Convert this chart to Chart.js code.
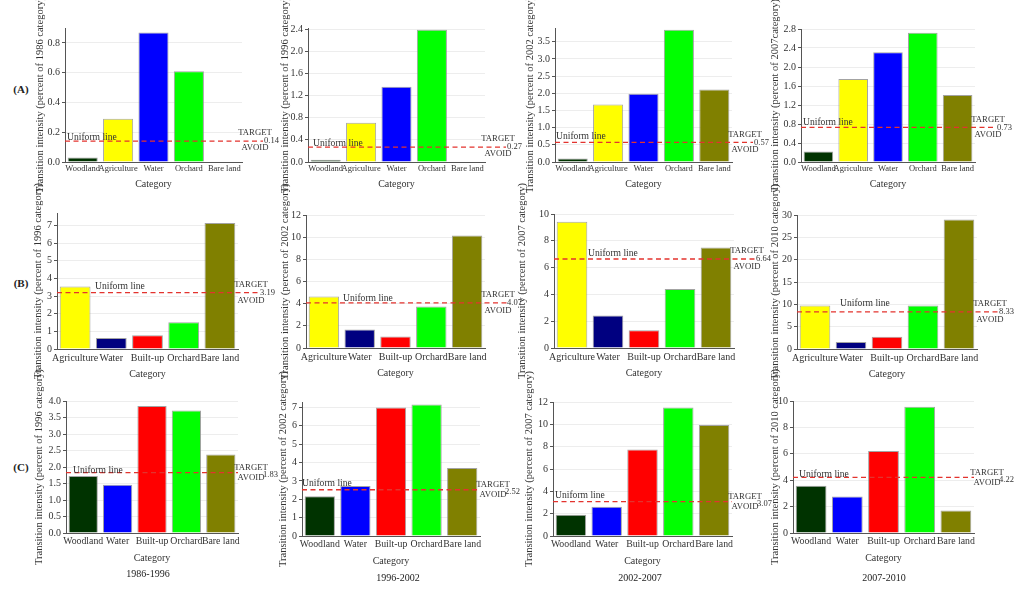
<!DOCTYPE html>
<html>
<head>
<meta charset="utf-8">
<title>Transition intensity by category</title>
<script src="https://cdn.jsdelivr.net/npm/chart.js@4.4.1/dist/chart.umd.min.js"></script>
<style>
    html, body { margin: 0; padding: 0; background: #fff; }
    #wrap {
        position: relative;
        width: 1024px;
        height: 596px;
        overflow: hidden;
        font-family: "Liberation Serif", "Times New Roman", serif;
        color: #222;
    }
    #wrap canvas { position: absolute; top: 0; }
    .lbl {
        position: absolute;
        white-space: nowrap;
        transform: translate(-50%, -50%);
        font-size: 10px;
        line-height: 1;
    }
    .row-lbl { font-weight: bold; font-size: 11px; }
</style>
</head>
<body>
<div id="wrap"></div>
<script>
// categories per row
const catsA = ['Woodland', 'Agriculture', 'Water', 'Orchard', 'Bare land'];
const catsB = ['Agriculture', 'Water', 'Built-up', 'Orchard', 'Bare land'];
const catsC = ['Woodland', 'Water', 'Built-up', 'Orchard', 'Bare land'];

const periods = ['1986-1996', '1996-2002', '2002-2007', '2007-2010'];
const yearsA = ['1986', '1996', '2002', '2007'];
const yearsBC = ['1996', '2002', '2007', '2010'];

// transition intensity values (one list per period)
const valuesA = [
    [0.03, 0.29, 0.87, 0.61, 0],
    [0.04, 0.71, 1.36, 2.39, 0],
    [0.10, 1.67, 1.99, 3.85, 2.11],
    [0.22, 1.75, 2.31, 2.72, 1.41]
];
const valuesB = [
    [3.54, 0.62, 0.78, 1.51, 7.13],
    [4.64, 1.66, 1.03, 3.74, 10.16],
    [9.43, 2.43, 1.33, 4.40, 7.50],
    [9.72, 1.57, 2.77, 9.72, 29.0]
];
const valuesC = [
    [1.73, 1.46, 3.85, 3.71, 2.38],
    [2.16, 2.72, 7.00, 7.16, 3.70],
    [1.90, 2.62, 7.74, 11.50, 9.95],
    [3.58, 2.77, 6.22, 9.57, 1.71]
];

// uniform intensity lines
const uniformA = [0.14, 0.27, 0.57, 0.73];
const uniformB = [3.19, 4.07, 6.64, 8.33];
const uniformC = [1.83, 2.52, 3.07, 4.22];

// y axis ranges / tick steps
const maxA = [0.9, 2.42, 3.9, 2.8];
const stepA = [0.2, 0.4, 0.5, 0.4];
const decA = [1, 1, 1, 1];
const maxB = [7.7, 12, 10, 30];
const stepB = [1, 2, 2, 5];
const decB = [0, 0, 0, 0];
const maxC = [4.0, 7.3, 12, 10];
const stepC = [0.5, 1, 2, 2];
const decC = [1, 0, 0, 0];

const colours = {
    'Woodland': '#003300',
    'Agriculture': '#ffff00',
    'Water': '#0000ff',
    'Built-up': '#ff0000',
    'Orchard': '#00ff00',
    'Bare land': '#808000'
};

// page geometry: [title x, plot left, plot right, plot top, plot bottom]
const boxes = [
    [[40, 65, 242, 28, 162], [285, 308, 485, 28, 162], [530, 555, 732, 28, 162], [775, 801, 975, 29, 162]],
    [[38, 57, 238, 213, 349], [285, 306, 485, 215, 348], [522, 554, 734, 214, 348], [775, 797, 977, 215, 349]],
    [[39, 66, 238, 401, 533], [283, 302, 480, 402, 536], [529, 553, 732, 402, 536], [775, 793, 974, 401, 533]]
];
// "Uniform line" text offset from the axis and from the line
const uText = [
    [[2, -4], [5, -3.5], [1, -5.5], [2, -4.5]],
    [[38, -6], [37, -4], [34, -6], [43, -8]],
    [[7, -2], [0, -6], [2, -6], [6, -3]]
];
const rowStyle = [
    { hx: 28, pad: 2, xFont: 8.5, ext: 21, tDy: -8, aDy: 7, vDy: 0, vDx: 22 },
    { hx: 31.5, pad: 3, xFont: 10, ext: 22, tDy: -8, aDy: 8, vDy: 0, vDx: 22 },
    { hx: 31, pad: 3, xFont: 9.8, ext: 0, tDy: -5, aDy: 5, vDy: 2, vDx: 25 }
];

const rows = [
    { cats: catsA, values: valuesA, uniform: uniformA, years: yearsA, max: maxA, step: stepA, dec: decA, water: '#0000ff' },
    { cats: catsB, values: valuesB, uniform: uniformB, years: yearsBC, max: maxB, step: stepB, dec: decB, water: '#000080' },
    { cats: catsC, values: valuesC, uniform: uniformC, years: yearsBC, max: maxC, step: stepC, dec: decC, water: '#0000ff' }
];

const FONT = '"Liberation Serif", "Times New Roman", serif';
const TITLE_SIZE = 10.5;
const PAGE_H = 596;
const RIGHT_ROOM = 50;

Chart.defaults.font.family = FONT;
Chart.defaults.color = '#333';

const wrap = document.getElementById('wrap');

// dashed uniform line with its labels
const uniformLine = {
    id: 'uniform',
    afterDatasetsDraw(chart, args, opts) {
        const { ctx, chartArea } = chart;
        const y = chart.scales.y.getPixelForValue(opts.value);
        ctx.save();
        ctx.strokeStyle = '#e3332e';
        ctx.lineWidth = 1.3;
        ctx.setLineDash([5, 3.5]);
        ctx.beginPath();
        ctx.moveTo(chartArea.left, y);
        ctx.lineTo(chartArea.right + opts.ext, y);
        ctx.stroke();
        ctx.setLineDash([]);

        ctx.fillStyle = '#333';
        ctx.textBaseline = 'middle';
        ctx.font = '9.6px ' + FONT;
        ctx.textAlign = 'left';
        ctx.fillText('Uniform line', chartArea.left + opts.textDx, y + opts.textDy);

        ctx.font = '8.7px ' + FONT;
        ctx.textAlign = 'center';
        ctx.fillText('TARGET', chartArea.right + 13, y + opts.tDy);
        ctx.fillText('AVOID', chartArea.right + 13, y + opts.aDy);
        ctx.font = '8.5px ' + FONT;
        ctx.textAlign = 'left';
        ctx.fillText(opts.value.toFixed(2), chartArea.right + opts.vDx, y + opts.vDy);
        ctx.restore();
    }
};

function addLabel(text, x, y, cls) {
    const el = document.createElement('div');
    el.className = 'lbl' + (cls ? ' ' + cls : '');
    el.style.left = x + 'px';
    el.style.top = y + 'px';
    el.textContent = text;
    wrap.appendChild(el);
}

rows.forEach((row, r) => {
    const st = rowStyle[r];
    row.values.forEach((vals, i) => {
        const [titleX, left, right, top, bottom] = boxes[r][i];
        const canvasLeft = Math.round(titleX - TITLE_SIZE * 0.6);
        const canvas = document.createElement('canvas');
        canvas.width = right + RIGHT_ROOM - canvasLeft;
        canvas.height = PAGE_H;
        canvas.style.left = canvasLeft + 'px';
        wrap.appendChild(canvas);

        const barColours = row.cats.map(c => (c === 'Water' ? row.water : colours[c]));
        const yTitle = 'Transition intensity (percent of ' + row.years[i] +
            (r === 0 && i === 3 ? 'category)' : ' category)');

        new Chart(canvas, { // eslint-disable-line
            type: 'bar',
            data: {
                labels: row.cats,
                datasets: [{
                    data: vals,
                    backgroundColor: barColours,
                    borderColor: 'rgba(140, 140, 140, 0.8)',
                    borderWidth: 1,
                    barPercentage: 0.85,
                    categoryPercentage: 1
                }]
            },
            options: {
                responsive: false,
                animation: false,
                events: [],
                layout: {
                    padding: { left: 0, top: top, right: RIGHT_ROOM, bottom: PAGE_H - bottom - st.hx }
                },
                plugins: {
                    legend: { display: false },
                    tooltip: { enabled: false },
                    uniform: {
                        value: row.uniform[i],
                        ext: st.ext,
                        textDx: uText[r][i][0],
                        textDy: uText[r][i][1],
                        tDy: st.tDy,
                        aDy: st.aDy,
                        vDx: st.vDx,
                        vDy: st.vDy
                    }
                },
                scales: {
                    x: {
                        grid: { display: false, drawTicks: false },
                        border: { display: true, color: '#555', width: 1 },
                        ticks: {
                            autoSkip: false,
                            maxRotation: 0,
                            minRotation: 0,
                            padding: st.pad,
                            color: '#333',
                            font: { size: st.xFont }
                        },
                        title: {
                            display: true,
                            text: 'Category',
                            color: '#333',
                            padding: 0,
                            font: { size: 10 }
                        },
                        afterFit: (s) => { s.height = st.hx; }
                    },
                    y: {
                        min: 0,
                        max: row.max[i],
                        grid: { color: '#ededed', tickColor: '#555', tickLength: 3 },
                        border: { display: true, color: '#555', width: 1 },
                        ticks: {
                            stepSize: row.step[i],
                            includeBounds: false,
                            padding: 2,
                            color: '#333',
                            font: { size: 10 },
                            callback: v => Number(v).toFixed(row.dec[i])
                        },
                        title: {
                            display: true,
                            text: yTitle,
                            color: '#333',
                            padding: 0,
                            font: { size: TITLE_SIZE }
                        },
                        afterFit: (s) => { s.width = left - canvasLeft; }
                    }
                }
            },
            plugins: [uniformLine]
        });
    });
});

addLabel('(A)', 21, 89, 'row-lbl');
addLabel('(B)', 21, 283, 'row-lbl');
addLabel('(C)', 21, 467, 'row-lbl');

const periodX = [148, 398, 640, 884];
const periodY = [574, 578, 578, 578];
periods.forEach((p, i) => addLabel(p, periodX[i], periodY[i]));
</script>
</body>
</html>
